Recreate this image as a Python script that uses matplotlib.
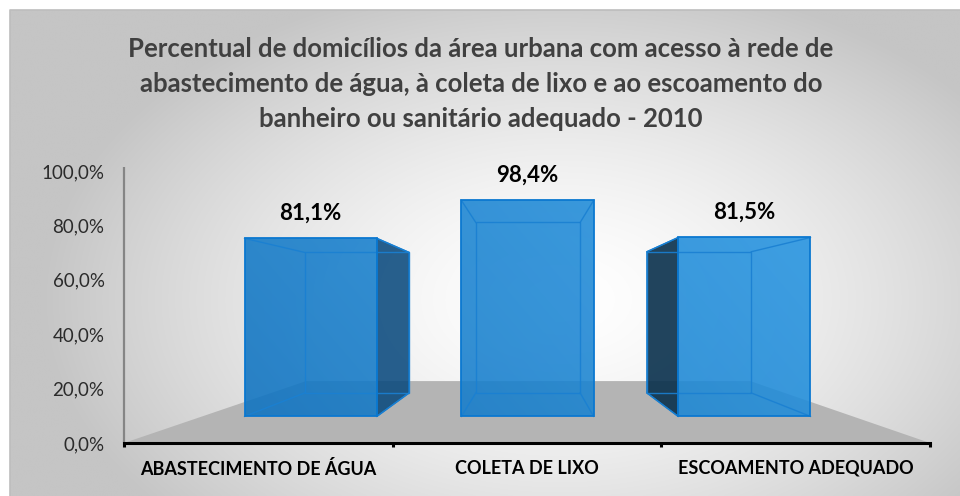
import numpy as np
import matplotlib
matplotlib.use('Agg')
import matplotlib.pyplot as plt
from matplotlib.patches import Polygon
from matplotlib.ticker import FuncFormatter

# ---------------- data ----------------
categories = ['ABASTECIMENTO DE ÁGUA', 'COLETA DE LIXO', 'ESCOAMENTO ADEQUADO']
values = [81.1, 98.4, 81.5]
value_labels = ['81,1%', '98,4%', '81,5%']
y_ticks = [0, 20, 40, 60, 80, 100]
title = ('Percentual de domicílios da área urbana com acesso à rede de\n'
         'abastecimento de água, à coleta de lixo e ao escoamento do\n'
         'banheiro ou sanitário adequado - 2010')

FONT = ['Lato', 'DejaVu Sans']
plt.rcParams['font.family'] = FONT

W, H = 960, 496
fig = plt.figure(figsize=(W / 100, H / 100), dpi=100)
fig.patch.set_facecolor('white')

# ---------------- background (radial gradient chart area) ----------------
bg = fig.add_axes([0, 0, 1, 1], zorder=0)
bg.set_xlim(0, W)
bg.set_ylim(H, 0)
bg.axis('off')
xx, yy = np.meshgrid(np.linspace(10, W, 480), np.linspace(10, H, 250))
r = np.sqrt(((xx - 560) / 520) ** 2 + ((yy - 300) / 330) ** 2)
val = 255 - 58 * np.clip(r, 0, 1) ** 1.5
img = np.dstack([val, val, val]) / 255.0
bg.imshow(img, extent=(10, W, H, 10), aspect='auto', interpolation='bilinear')
bg.plot([10, 10, W], [H, 10, 10], color='#bdbdbd', lw=1.2)
bg.set_xlim(0, W)
bg.set_ylim(H, 0)

# ---------------- main axes ----------------
ax = fig.add_axes([124 / W, (H - 443) / H, 806 / W, 272 / H], zorder=2)
ax.patch.set_alpha(0)

VP = (1.01, 50.7)          # vanishing point in data coords
T_FRONT, T_BACK, T_FLOOR = 0.193, 0.363, 0.449
HALF = 0.305


def proj(X, V, t):
    return (X + t * (VP[0] - X), V + t * (VP[1] - V))


# floor
floor = Polygon([proj(-0.5, 0, 0), proj(2.5, 0, 0),
                 proj(2.5, 0, T_FLOOR), proj(-0.5, 0, T_FLOOR)],
                closed=True, facecolor='#b4b4b4', edgecolor='none',
                zorder=1, clip_on=False)
ax.add_patch(floor)

# gradient image for front faces
gx, gy = np.meshgrid(np.linspace(-0.5, 2.5, 300), np.linspace(0, 100, 200))
s = np.clip((gx + 0.2) / 2.6 * 0.75 + gy / 100 * 0.25, 0, 1)
c0 = np.array([12, 112, 190]) / 255.0
c1 = np.array([42, 155, 232]) / 255.0
grad = c0[None, None, :] * (1 - s[..., None]) + c1[None, None, :] * s[..., None]

edge_col = '#0b78d0'
inner_col = '#1a80d2'

for i, v in enumerate(values):
    fl, fr = i - HALF, i + HALF
    front = [proj(fl, 0, T_FRONT), proj(fr, 0, T_FRONT),
             proj(fr, v, T_FRONT), proj(fl, v, T_FRONT)]
    back = [proj(fl, 0, T_BACK), proj(fr, 0, T_BACK),
            proj(fr, v, T_BACK), proj(fl, v, T_BACK)]
    # visible side faces
    if VP[0] > fr + 0.05:
        side = [front[1], back[1], back[2], front[2]]
        ax.add_patch(Polygon(side, closed=True, facecolor='#0a4a7e',
                             alpha=0.88, edgecolor='none', zorder=3, clip_on=False))
        ax.add_patch(Polygon(side, closed=True, facecolor='none',
                             edgecolor=edge_col, lw=1.0, zorder=5, clip_on=False))
    if VP[0] < fl - 0.05:
        side = [front[0], back[0], back[3], front[3]]
        ax.add_patch(Polygon(side, closed=True, facecolor='#09304c',
                             alpha=0.9, edgecolor='none', zorder=3, clip_on=False))
        ax.add_patch(Polygon(side, closed=True, facecolor='none',
                             edgecolor=edge_col, lw=1.0, zorder=5, clip_on=False))
    # front face with gradient
    fpoly = Polygon(front, closed=True, facecolor='none', edgecolor='none',
                    zorder=4, clip_on=False)
    ax.add_patch(fpoly)
    im = ax.imshow(grad, extent=(-0.5, 2.5, 0, 100), origin='lower',
                   aspect='auto', alpha=0.88, zorder=4, interpolation='bilinear')
    im.set_clip_path(fpoly)
    # inner edges (back face + connectors)
    ax.add_patch(Polygon(back, closed=True, facecolor='none',
                         edgecolor=inner_col, lw=1.0, alpha=0.9, zorder=5, clip_on=False))
    for a, b in zip(front, back):
        ax.plot([a[0], b[0]], [a[1], b[1]], color=inner_col, lw=1.0,
                alpha=0.9, zorder=5, clip_on=False)
    ax.add_patch(Polygon(front, closed=True, facecolor='none',
                         edgecolor=edge_col, lw=1.3, zorder=6, clip_on=False))
    # data label
    top = proj(i, v, T_FRONT)
    ax.annotate(value_labels[i], xy=top, xytext=(0, 18), textcoords='offset points',
                ha='center', va='center', fontsize=16, fontweight='bold',
                color='black', zorder=7, annotation_clip=False)

ax.set_xlim(-0.5, 2.5)
ax.set_ylim(0, 100)

# axes styling
for sp in ['top', 'right', 'left']:
    ax.spines[sp].set_visible(False)
ax.spines['bottom'].set_linewidth(2.2)
ax.spines['bottom'].set_color('black')
ax.spines['bottom'].set_zorder(8)
ax.plot([-0.5, -0.5], [0, 101.5], color='#858585', lw=1.6, zorder=8,
        clip_on=False, solid_capstyle='butt')

ax.set_yticks(y_ticks)
ax.yaxis.set_major_formatter(FuncFormatter(lambda x, p: f'{x:.1f}%'.replace('.', ',')))
ax.tick_params(axis='y', length=0, pad=14, labelsize=13.5, labelcolor='#2b2b2b')

ax.set_xticks(range(len(categories)))
ax.set_xticklabels(categories, fontweight='bold')
ax.set_xticks([-0.5, 0.5, 1.5, 2.5], minor=True)
ax.tick_params(axis='x', which='major', length=0, pad=12, labelsize=13, labelcolor='black')
ax.tick_params(axis='x', which='minor', length=3.2, width=2.2, color='black', direction='out')

# title
fig.text(481 / W, 1 - 84 / H, title, ha='center', va='center', fontsize=18.5,
         fontweight='bold', color='#404040', linespacing=1.53)

fig.savefig('out.png', dpi=100)
